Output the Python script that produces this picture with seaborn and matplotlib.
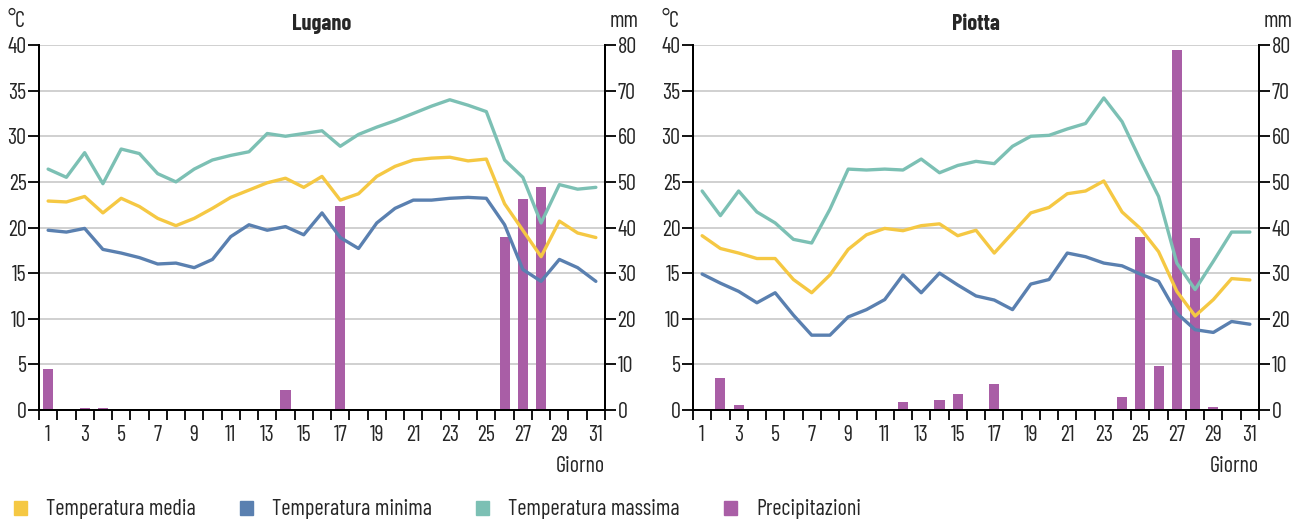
import numpy as np
import pandas as pd
import matplotlib.pyplot as plt
import seaborn as sns
from matplotlib.patches import Patch

sns.set_style("white")
plt.rcParams['font.family'] = ['Barlow Condensed', 'Roboto Condensed', 'DejaVu Sans']

# Days of the month
days = list(range(1, 32))

# Lugano
lug_media = [22.9, 22.8, 23.4, 21.6, 23.2, 22.3, 21.0, 20.2, 21.0, 22.1, 23.3, 24.1, 24.9, 25.4, 24.4, 25.6,
             23.0, 23.7, 25.6, 26.7, 27.4, 27.6, 27.7, 27.3, 27.5, 22.6, 19.7, 16.8, 20.7, 19.4, 18.9]
lug_minima = [19.7, 19.5, 19.9, 17.6, 17.2, 16.7, 16.0, 16.1, 15.6, 16.5, 19.0, 20.3, 19.7, 20.1, 19.2, 21.6,
              18.9, 17.7, 20.5, 22.1, 23.0, 23.0, 23.2, 23.3, 23.2, 20.3, 15.4, 14.1, 16.5, 15.6, 14.1]
lug_massima = [26.4, 25.5, 28.2, 24.8, 28.6, 28.1, 25.9, 25.0, 26.4, 27.4, 27.9, 28.3, 30.3, 30.0, 30.3, 30.6,
               28.9, 30.2, 31.0, 31.7, 32.5, 33.3, 34.0, 33.4, 32.7, 27.4, 25.5, 20.5, 24.7, 24.2, 24.4]
lug_prec = [8.9, 0, 0.4, 0.5, 0, 0, 0, 0, 0, 0, 0, 0, 0, 4.4, 0.1, 0,
            44.7, 0, 0, 0, 0, 0, 0, 0, 0, 37.9, 46.3, 48.9, 0, 0, 0]

# Piotta
pio_media = [19.1, 17.7, 17.2, 16.6, 16.6, 14.3, 12.85, 14.8, 17.6, 19.2, 19.9, 19.65, 20.2, 20.4, 19.1, 19.7,
             17.2, 19.4, 21.6, 22.2, 23.7, 24.0, 25.1, 21.7, 19.9, 17.35, 13.0, 10.3, 12.1, 14.4, 14.25]
pio_minima = [14.9, 13.9, 13.0, 11.75, 12.85, 10.4, 8.2, 8.2, 10.2, 11.0, 12.1, 14.8, 12.85, 15.0, 13.7, 12.5,
              12.05, 11.0, 13.8, 14.3, 17.2, 16.8, 16.1, 15.8, 14.9, 14.1, 10.6, 8.8, 8.5, 9.7, 9.4]
pio_massima = [24.0, 21.3, 24.0, 21.7, 20.5, 18.7, 18.3, 22.0, 26.4, 26.3, 26.4, 26.3, 27.5, 26.0, 26.8, 27.25,
               27.0, 28.9, 30.0, 30.1, 30.8, 31.4, 34.2, 31.6, 27.4, 23.4, 16.1, 13.2, 16.3, 19.5, 19.5]
pio_prec = [0, 7.1, 1.0, 0, 0, 0, 0, 0, 0, 0, 0, 1.7, 0, 2.2, 3.5, 0,
            5.6, 0, 0, 0, 0, 0, 0, 2.9, 37.9, 9.7, 78.9, 37.8, 0.7, 0, 0]

stations = ["Lugano", "Piotta"]
series_names = ["Temperatura media", "Temperatura minima", "Temperatura massima", "Precipitazioni"]

c_media = "#F5C843"
c_min = "#5A80B0"
c_max = "#7CC0B4"
c_prec = "#A95EA6"

data = {
    "Lugano": (lug_media, lug_minima, lug_massima, lug_prec),
    "Piotta": (pio_media, pio_minima, pio_massima, pio_prec),
}

fig = plt.figure(figsize=(13.06, 5.19), dpi=100)
positions = {"Lugano": 39 / 1306, "Piotta": 693 / 1306}
fs = 16

for name in stations:
    media, minima, massima, prec = data[name]
    df = pd.DataFrame({"Giorno": days, "media": media, "minima": minima,
                       "massima": massima, "prec": prec})

    ax2 = fig.add_axes([positions[name], 109 / 519, 566 / 1306, 365 / 519])
    ax = ax2.twinx()
    ax.yaxis.tick_left()
    ax2.yaxis.tick_right()

    # precipitation bars (right axis)
    sns.barplot(data=df, x="Giorno", y="prec", native_scale=True, color=c_prec,
                saturation=1, width=0.55, ax=ax2, linewidth=0, errorbar=None)

    # temperatures (left axis), drawn above the bars
    for col, c in [("massima", c_max), ("media", c_media), ("minima", c_min)]:
        sns.lineplot(data=df, x="Giorno", y=col, color=c, linewidth=2.4, ax=ax)

    ax2.set_ylim(0, 80)
    ax.set_ylim(0, 40)
    ax2.set_xlim(0.5, 31.5)
    ax.set_xlim(0.5, 31.5)

    ax2.set_yticks(range(0, 81, 10))
    ax.set_yticks(range(0, 41, 5))
    ax2.yaxis.grid(True, color="#c8c8c8", linewidth=1.2)
    ax2.set_axisbelow(True)
    ax.grid(False)

    ax2.set_xticks(range(1, 32, 2))
    ax2.set_xticks(np.arange(0.5, 32, 1), minor=True)
    ax2.tick_params(axis="x", which="major", bottom=True, length=0, pad=11, labelsize=fs)
    ax2.tick_params(axis="x", which="minor", bottom=True, length=7, width=1.3,
                    direction="out", color="black")
    ax.tick_params(axis="x", bottom=False, labelbottom=False)

    ax.tick_params(axis="y", length=8, width=1.3, pad=1, labelsize=fs, color="black")
    ax2.tick_params(axis="y", length=8, width=1.3, pad=1, labelsize=fs, color="black",
                    left=False, right=True)

    for a in (ax, ax2):
        a.set_xlabel("")
        a.set_ylabel("")
        a.spines["top"].set_visible(False)
        for s in ("left", "right", "bottom"):
            a.spines[s].set_color("black")
            a.spines[s].set_linewidth(1.4)

    ax.set_title(name, fontsize=fs, fontweight="bold", pad=11)
    ax.text(-0.055, 1.065, "°C", transform=ax.transAxes, fontsize=fs, ha="left", va="center")
    ax.text(1.06, 1.065, "mm", transform=ax.transAxes, fontsize=fs, ha="right", va="center")
    ax.text(1.0, -0.155, "Giorno", transform=ax.transAxes, fontsize=fs, ha="right", va="center")

# legend entries placed one by one along the bottom
leg_x = [14, 240, 476, 724]
for lbl, c, x in zip(series_names, (c_media, c_min, c_max, c_prec), leg_x):
    leg = fig.legend([Patch(color=c)], [lbl], loc="center left",
                     bbox_to_anchor=(x / 1306, 9 / 519), frameon=False, fontsize=fs,
                     handlelength=0.6, handleheight=0.6, handletextpad=0.85,
                     borderpad=0, borderaxespad=0)

fig.savefig("out.png", dpi=100)
